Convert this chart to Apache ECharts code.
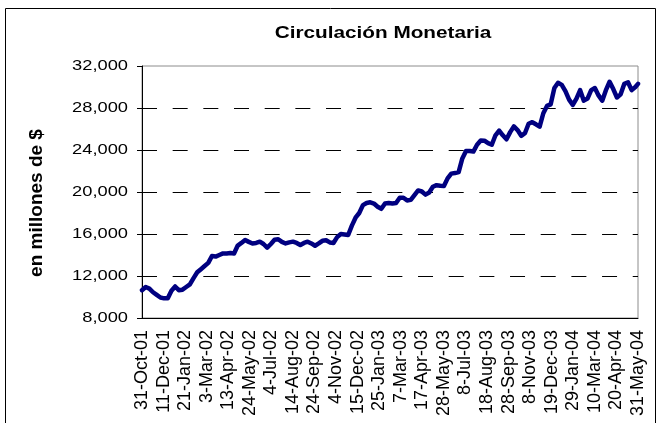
<!DOCTYPE html>
<html>
<head>
<meta charset="utf-8">
<script src="https://cdn.jsdelivr.net/npm/echarts@6/dist/echarts.min.js"></script>
<style>
  html, body { margin: 0; padding: 0; background: #ffffff; }
  #chart { width: 660px; height: 423px; }
</style>
</head>
<body>
<div id="chart"></div>
<script>
// Texts
const titleText = 'Circulación Monetaria';
const yAxisTitle = 'en millones de $';

// Date labels along the horizontal axis, one every 41 days
const xTickLabels = [
  '31-Oct-01', '11-Dec-01', '21-Jan-02', '3-Mar-02', '13-Apr-02', '24-May-02',
  '4-Jul-02', '14-Aug-02', '24-Sep-02', '4-Nov-02', '15-Dec-02', '25-Jan-03',
  '7-Mar-03', '17-Apr-03', '28-May-03', '8-Jul-03', '18-Aug-03', '28-Sep-03',
  '8-Nov-03', '19-Dec-03', '29-Jan-04', '10-Mar-04', '20-Apr-04', '31-May-04'
];
const labelStepDays = 41;

// Vertical axis ticks (millones de $)
const yTickValues = [8000, 12000, 16000, 20000, 24000, 28000, 32000];
const yTickLabels = ['8,000', '12,000', '16,000', '20,000', '24,000', '28,000', '32,000'];

// Weekly observations from firstDate; the final one falls on lastDate
const firstDate = '2001-10-31';
const lastDate = '2004-05-31';
const weeklyValues = [
  10650, 10950, 10800, 10450, 10200, 9950, 9870, 9880, 10600, 11000,
  10650, 10700, 10950, 11200, 11800, 12350, 12650, 12950, 13250, 13900,
  13850, 14000, 14150, 14150, 14200, 14150, 14900, 15150, 15430, 15250,
  15100, 15150, 15270, 15050, 14700, 15050, 15450, 15500, 15250, 15100,
  15200, 15270, 15150, 14950, 15150, 15270, 15100, 14880, 15100, 15350,
  15400, 15200, 15150, 15700, 16000, 15950, 15900, 16800, 17550, 18000,
  18750, 18950, 19020, 18900, 18600, 18400, 18900, 18950, 18900, 18950,
  19450, 19450, 19200, 19250, 19700, 20150, 20050, 19750, 19950, 20500,
  20650, 20600, 20570, 21300, 21750, 21800, 21900, 23200, 23900, 23900,
  23850, 24500, 24900, 24890, 24650, 24500, 25400, 25850, 25400, 25020,
  25700, 26250, 25900, 25350, 25600, 26500, 26650, 26450, 26220, 27500,
  28200, 28350, 29900, 30400, 30200, 29600, 28800, 28300, 28900, 29700,
  28700, 28900, 29700, 29900, 29200, 28700, 29700, 30500, 29800, 29000,
  29300, 30300, 30450, 29700, 30000,
  30300
];

// Day offsets from the first date
const DAY_MS = 86400000;
const t0 = Date.parse(firstDate + 'T00:00:00Z');
const totalDays = Math.round((Date.parse(lastDate + 'T00:00:00Z') - t0) / DAY_MS);
const seriesData = weeklyValues.map((v, i) => [
  i === weeklyValues.length - 1 ? totalDays : i * 7,
  v
]);

const FONT = "'Liberation Sans', Arial, sans-serif";
const GRID = { left: 142, top: 66, width: 496, height: 252 };

const chart = echarts.init(document.getElementById('chart'), null, { renderer: 'canvas' });

chart.setOption({
  backgroundColor: '#ffffff',
  animation: false,
  grid: {
    left: GRID.left, top: GRID.top, width: GRID.width, height: GRID.height,
    show: true, borderColor: '#8c8c8c', borderWidth: 1, backgroundColor: 'transparent'
  },
  xAxis: {
    type: 'value',
    min: 0,
    max: totalDays,
    interval: labelStepDays,
    axisLine: { show: true, onZero: false, lineStyle: { color: '#000', width: 1 } },
    axisTick: { show: false },
    splitLine: { show: false },
    axisLabel: {
      rotate: 90,
      margin: 12,
      fontFamily: FONT,
      fontSize: 18,
      color: '#000',
      showMinLabel: true,
      showMaxLabel: true,
      formatter: v => xTickLabels[Math.round(v / labelStepDays)] || ''
    }
  },
  yAxis: {
    type: 'value',
    min: yTickValues[0],
    max: yTickValues[yTickValues.length - 1],
    interval: 4000,
    axisLine: { show: true, lineStyle: { color: '#000', width: 1 } },
    axisTick: { show: true, inside: false, length: 5, lineStyle: { color: '#000', width: 1 } },
    axisLabel: { show: false },
    splitLine: {
      show: true,
      lineStyle: {
        // top line coincides with the plot border, so it stays hidden
        color: ['#000', '#000', '#000', '#000', '#000', '#000', 'rgba(0,0,0,0)'],
        width: 1,
        type: [15, 15.67]
      }
    }
  },
  series: [{
    type: 'line',
    data: seriesData,
    showSymbol: false,
    symbol: 'none',
    smooth: false,
    lineStyle: { color: '#000080', width: 4.5, join: 'round', cap: 'round' },
    z: 5
  }]
});

// Stretched horizontal texts (title and value labels), rotated axis title, outer frame
const graphics = [
  {
    type: 'rect', silent: true, z: -10,
    shape: { x: 5.5, y: 8.5, width: 650, height: 440 },
    style: { fill: '#ffffff', stroke: '#000', lineWidth: 1 }
  },
  {
    type: 'text', x: 383, y: 33, scaleX: 1.22, z: 10,
    style: {
      text: titleText, font: 'bold 17px ' + FONT, fill: '#000',
      textAlign: 'center', textVerticalAlign: 'middle'
    }
  },
  {
    type: 'text', x: 37, y: 203, rotation: Math.PI / 2, z: 10,
    style: {
      text: yAxisTitle, font: 'bold 19px ' + FONT, fill: '#000',
      textAlign: 'center', textVerticalAlign: 'middle'
    }
  }
];
yTickValues.forEach((v, i) => {
  const py = chart.convertToPixel({ yAxisIndex: 0 }, v);
  graphics.push({
    type: 'text', x: 128, y: py, scaleX: 1.22, z: 10,
    style: {
      text: yTickLabels[i], font: '15px ' + FONT, fill: '#000',
      textAlign: 'right', textVerticalAlign: 'middle'
    }
  });
});
chart.setOption({ graphic: graphics });
</script>
</body>
</html>
